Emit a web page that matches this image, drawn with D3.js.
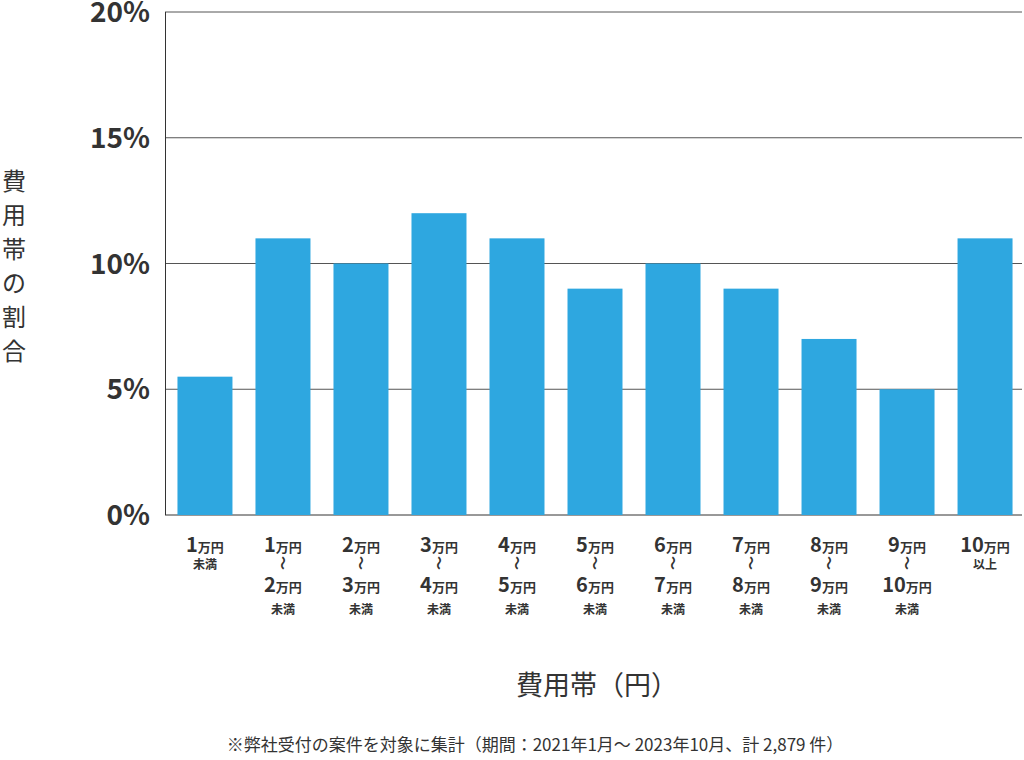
<!DOCTYPE html>
<html><head><meta charset="utf-8">
<script src="https://cdn.jsdelivr.net/npm/d3@7"></script>
<style>body{margin:0;background:#fff}text{font-family:"Noto Sans CJK JP","Noto Sans",sans-serif}</style>
</head><body><svg id="c" width="1024" height="760"></svg>
<script>
const categories=["1万円未満","1万円～2万円未満","2万円～3万円未満","3万円～4万円未満","4万円～5万円未満","5万円～6万円未満","6万円～7万円未満","7万円～8万円未満","8万円～9万円未満","9万円～10万円未満","10万円以上"];
const lowNums=["1","1","2","3","4","5","6","7","8","9","10"];
const highNums=[null,"2","3","4","5","6","7","8","9","10",null];
const suffix=["未満",null,null,null,null,null,null,null,null,null,"以上"];
const values=[5.5,11,10,12,11,9,10,9,7,5,11];
const yTicks=[0,5,10,15,20];
const tickLabels=["0%","5%","10%","15%","20%"];

const svg=d3.select("#c");
const x=d3.scaleBand().domain(categories).range([166,1024]).paddingInner(0.295).paddingOuter(0.147);
const y=d3.scaleLinear().domain([0,20]).range([515,12]);
yTicks.forEach((t,i)=>{
  svg.append("line").attr("x1",165).attr("x2",1022).attr("y1",y(t)).attr("y2",y(t)).attr("stroke",t===0?"#333":"#555").attr("stroke-width",1);
  svg.append("text").attr("x",150).attr("y",y(t)+10).attr("text-anchor","end").attr("font-size",28).attr("font-weight",700).attr("fill","#333").text(tickLabels[i]);
});
svg.append("line").attr("x1",165.5).attr("x2",165.5).attr("y1",12).attr("y2",515).attr("stroke","#333");
svg.selectAll("rect.b").data(values).enter().append("rect").attr("class","b")
 .attr("x",(d,i)=>x(categories[i])).attr("width",x.bandwidth())
 .attr("y",d=>y(d)).attr("height",d=>y(0)-y(d)).attr("fill","#2ea7e0");

categories.forEach((c,i)=>{
  const cx=x(c)+x.bandwidth()/2;
  const g=svg.append("g").attr("fill","#333").attr("font-weight",700);
  const numLine=(yy,n)=>{const t=g.append("text").attr("x",cx).attr("y",yy).attr("text-anchor","middle");
    t.append("tspan").attr("font-size",20).text(n);t.append("tspan").attr("font-size",13).text("万円");};
  numLine(552,lowNums[i]);
  if(highNums[i]){
    g.append("text").attr("x",cx).attr("y",568).attr("text-anchor","middle").attr("font-size",14).attr("transform",`rotate(90,${cx},563)`).text("～");
    numLine(592,highNums[i]);
    g.append("text").attr("x",cx).attr("y",614).attr("text-anchor","middle").attr("font-size",12).text("未満");
  } else {
    g.append("text").attr("x",cx).attr("y",569).attr("text-anchor","middle").attr("font-size",12).text(suffix[i]);
  }
});
const yl=["費","用","帯","の","割","合"];
yl.forEach((ch,i)=>svg.append("text").attr("x",14).attr("y",190+i*34).attr("text-anchor","middle").attr("font-size",24).attr("fill","#333").text(ch));
svg.append("text").attr("x",597).attr("y",695).attr("text-anchor","middle").attr("font-size",27).attr("fill","#333").text("費用帯（円）");
svg.append("text").attr("x",535).attr("y",751).attr("text-anchor","middle").attr("font-size",17).attr("fill","#333").text("※弊社受付の案件を対象に集計（期間：2021年1月～ 2023年10月、計 2,879 件）");
</script>
</body></html>
